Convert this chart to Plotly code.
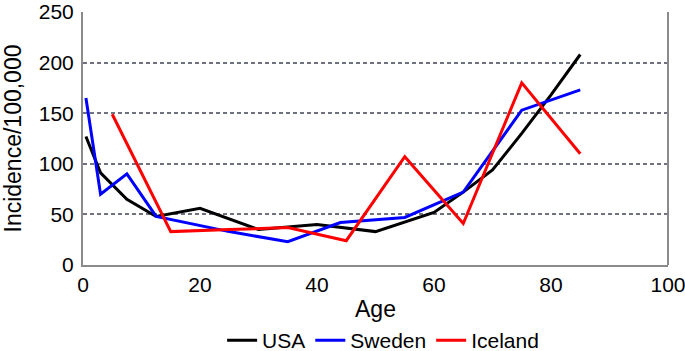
import plotly.graph_objects as go

usa_age = [0.5, 3, 7.5, 12.5, 20, 30, 40, 50, 60, 65, 70, 75, 80, 85]
usa_val = [127, 91, 65, 48, 56, 35, 40, 33, 52, 72, 94, 130, 168, 208]

swe_age = [0.5, 3, 7.5, 12.5, 25, 35, 44, 55, 65, 75, 85]
swe_val = [165, 70, 90, 48, 33, 23, 42, 47, 72, 153, 173]

ice_age = [5, 15, 25, 35, 45, 55, 65, 75, 85]
ice_val = [149, 33, 35, 37, 24, 107, 41, 180, 110]

x_ticks = [0, 20, 40, 60, 80, 100]
y_ticks = [0, 50, 100, 150, 200, 250]

font = "Liberation Sans, Arial, sans-serif"

fig = go.Figure()
for name, xs, ys, col in [("USA", usa_age, usa_val, "#000000"),
                          ("Sweden", swe_age, swe_val, "#0000ff"),
                          ("Iceland", ice_age, ice_val, "#ff0000")]:
    fig.add_trace(go.Scatter(x=xs, y=ys, mode="lines", name=name,
                             line=dict(color=col, width=3)))

fig.update_layout(
    width=685, height=351,
    margin=dict(l=83, r=17, t=12, b=86, autoexpand=False),
    plot_bgcolor="white", paper_bgcolor="white",
    font=dict(family=font, size=21, color="black"),
    showlegend=True,
    legend=dict(orientation="h", x=0.513, xanchor="center", y=-0.38, yanchor="bottom",
                font=dict(size=21), traceorder="normal", bgcolor="rgba(0,0,0,0)"),
    shapes=[dict(type="line", xref="paper", yref="paper", x0=1, x1=1, y0=0, y1=1,
                 line=dict(color="#8a8a8a", width=2), layer="above")],
)
fig.update_xaxes(range=[0, 100], tickvals=x_ticks, showgrid=False, automargin=False,
                 showline=True, linecolor="#8a8a8a", linewidth=2,
                 ticks="", ticklabelstandoff=0, ticklabeloverflow="allow",
                 title=dict(text="Age", font=dict(size=23), standoff=6),
                 zeroline=False)
fig.update_yaxes(range=[0, 250], tickvals=y_ticks, showgrid=True, automargin=False,
                 gridcolor="#6f7380", griddash="4px,3px", gridwidth=1.5,
                 showline=True, linecolor="#8a8a8a", linewidth=2,
                 ticks="", ticklabelstandoff=3,
                 title=dict(text="Incidence/100,000", font=dict(size=23), standoff=19),
                 zeroline=False)

fig.write_html("out.html", config={"displayModeBar": False},
               post_script="document.body.style.margin='0';document.body.style.overflow='hidden';")
